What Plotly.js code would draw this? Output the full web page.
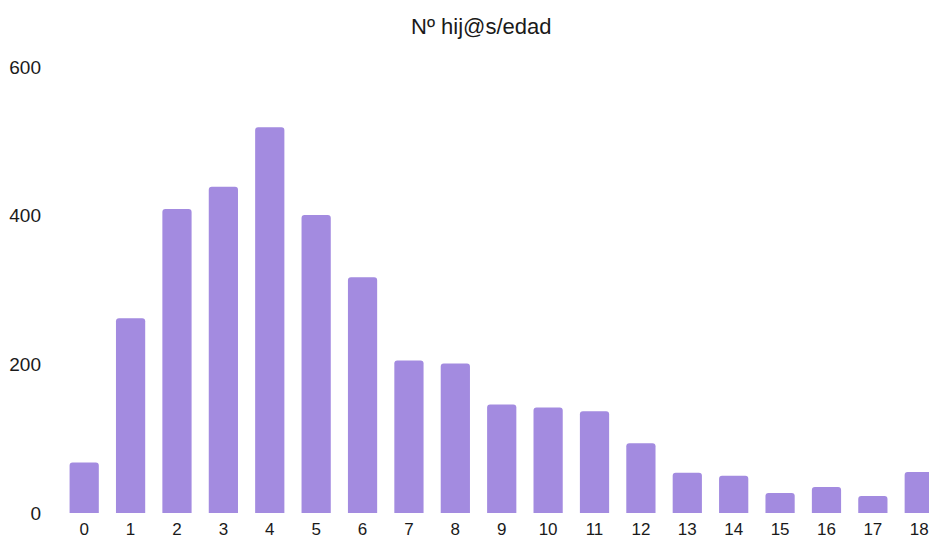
<!DOCTYPE html>
<html>
<head>
<meta charset="utf-8">
<script src="https://cdn.plot.ly/plotly-3.0.1.min.js"></script>
<style>html,body{margin:0;padding:0;background:#fff;}#chart{width:929px;height:541px;}</style>
</head>
<body>
<div id="chart"></div>
<script>
const categories = ["0","1","2","3","4","5","6","7","8","9","10","11","12","13","14","15","16","17","18"];
const values = [68, 262, 409, 439, 519, 401, 317, 205, 201, 146, 142, 137, 94, 54, 50, 27, 35, 23, 55];
const yTicks = [0, 200, 400, 600];
const titleText = "Nº hij@s/edad";

const trace = {
  type: "bar",
  x: categories.map(Number),
  y: values,
  marker: {color: "#a38be0", cornerradius: 3},
  hoverinfo: "x+y"
};

const layout = {
  width: 929, height: 541,
  margin: {l: 61, r: 0, t: 67, b: 28},
  paper_bgcolor: "#ffffff", plot_bgcolor: "#ffffff",
  font: {family: "Liberation Sans, Arial, sans-serif", size: 13, color: "#1a1a1a"},
  title: {text: titleText, x: 0.518, xanchor: "center", y: 0.951, yanchor: "middle",
          font: {size: 22, color: "#1a1a1a"}},
  bargap: 0.37,
  showlegend: false,
  xaxis: {
    range: [-0.5, 18.21],
    tickmode: "array", tickvals: categories.map(Number), ticktext: categories,
    showgrid: false, zeroline: false, showline: false, ticks: "",
    tickfont: {size: 17}, ticklabelstandoff: 4, fixedrange: true
  },
  yaxis: {
    range: [0, 600],
    tickmode: "array", tickvals: yTicks, ticktext: yTicks.map(String),
    showgrid: false, zeroline: false, showline: false, ticks: "",
    tickfont: {size: 19}, ticklabelstandoff: 19, fixedrange: true
  }
};

Plotly.newPlot("chart", [trace], layout, {displayModeBar: false, staticPlot: true});
</script>
</body>
</html>
